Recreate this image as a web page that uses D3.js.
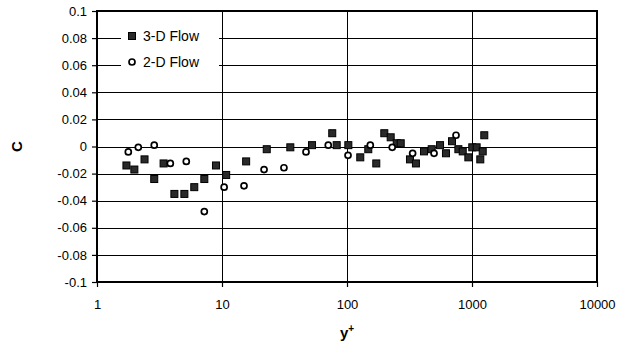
<!DOCTYPE html>
<html>
<head>
<meta charset="utf-8">
<script src="https://cdn.jsdelivr.net/npm/d3@7"></script>
<style>
  body { margin: 0; background: #fff; }
  text { font-family: "Liberation Sans", Arial, sans-serif; }
</style>
</head>
<body>
<div id="chart"></div>
<script>
// 3-D flow series
const x3d = [1.72, 1.99, 2.4, 2.87, 3.41, 4.16, 5.0, 6.0, 7.22, 8.95, 10.8, 15.6, 22.8, 35.2, 52.5, 76.2, 82.7, 102.5, 127.7, 148,
  171.5, 198.8, 223.6, 250, 269, 319, 356, 413, 476, 555, 619, 692, 778, 843, 935, 1005, 1089, 1165, 1218, 1254]
const c3d = [-0.014, -0.017, -0.0095, -0.024, -0.0125, -0.035, -0.035, -0.030, -0.024, -0.014, -0.021, -0.011, -0.002, -0.0006, 0.001, 0.0098, 0.001, 0.001, -0.008, -0.002,
  -0.0125, 0.0098, 0.0068, 0.0024, 0.0024, -0.0095, -0.0125, -0.0036, -0.002, 0.001, -0.005, 0.0039, -0.002, -0.0036, -0.008, -0.0006, -0.0006, -0.0095, -0.0036, 0.0083]

// 2-D flow series
const x2d = [1.78, 2.14, 2.87, 3.86, 5.18, 7.22, 10.4, 15.0, 21.7, 31.3, 47.0, 70.8, 101.9, 153.6, 230, 335, 497, 745]
const c2d = [-0.004, -0.0006, 0.001, -0.0125, -0.011, -0.048, -0.030, -0.029, -0.017, -0.0157, -0.004, 0.001, -0.0065, 0.001, -0.0006, -0.005, -0.005, 0.0083]

const xTicks = [1, 10, 100, 1000, 10000]
const yTicks = [-0.1, -0.08, -0.06, -0.04, -0.02, 0, 0.02, 0.04, 0.06, 0.08, 0.1]
const seriesNames = ["3-D Flow", "2-D Flow"]

const width = 626
const height = 347
const plotL = 97, plotR = 597, plotT = 11, plotB = 282

const svg = d3.select("#chart")
  .append("svg")
  .attr("width", width)
  .attr("height", height)

const x = d3.scaleLog().domain([1, 10000]).range([plotL, plotR])
const y = d3.scaleLinear().domain([-0.1, 0.1]).range([plotB, plotT])

// grid
svg.append("g")
  .selectAll("line")
  .data(yTicks.slice(1, -1))
  .join("line")
  .attr("x1", plotL).attr("x2", plotR)
  .attr("y1", d => Math.round(y(d)) + 0.5).attr("y2", d => Math.round(y(d)) + 0.5)
  .attr("stroke", "#000")
  .attr("stroke-width", 1)

svg.append("g")
  .selectAll("line")
  .data(xTicks.slice(1, -1))
  .join("line")
  .attr("x1", d => Math.round(x(d)) + 0.5).attr("x2", d => Math.round(x(d)) + 0.5)
  .attr("y1", plotT).attr("y2", plotB)
  .attr("stroke", "#000")
  .attr("stroke-width", 1)

// axes
const fmt = d => d === 0 ? "0" : String(+d.toFixed(2))

const yAxis = svg.append("g")
  .attr("transform", `translate(${plotL},0)`)
  .call(d3.axisLeft(y).tickValues(yTicks).tickFormat(fmt).tickSize(5).tickPadding(5))
yAxis.select(".domain").remove()

const xAxis = svg.append("g")
  .attr("transform", `translate(0,${plotB})`)
  .call(d3.axisBottom(x).tickValues(xTicks).tickFormat(d3.format("d")).tickSize(5).tickPadding(13))
xAxis.select(".domain").remove()

svg.selectAll(".tick line").attr("stroke", "#000").attr("stroke-width", 1.2)
svg.selectAll(".tick text")
  .attr("fill", "#000")
  .style("font-size", "13px")
  .style("font-family", "'Liberation Sans', Arial, sans-serif")

// plot border
svg.append("rect")
  .attr("x", plotL).attr("y", plotT)
  .attr("width", plotR - plotL).attr("height", plotB - plotT)
  .attr("fill", "none")
  .attr("stroke", "#000")
  .attr("stroke-width", 2)

// markers
const pts3 = x3d.map((v, i) => ({ x: v, c: c3d[i] }))
const pts2 = x2d.map((v, i) => ({ x: v, c: c2d[i] }))

svg.append("g")
  .selectAll("rect")
  .data(pts3)
  .join("rect")
  .attr("x", d => x(d.x) - 3.5)
  .attr("y", d => y(d.c) - 3.5)
  .attr("width", 7)
  .attr("height", 7)
  .attr("fill", "#2a2a2a")
  .attr("stroke", "#000")
  .attr("stroke-width", 1)

svg.append("g")
  .selectAll("circle")
  .data(pts2)
  .join("circle")
  .attr("cx", d => x(d.x))
  .attr("cy", d => y(d.c))
  .attr("r", 3)
  .attr("fill", "#fff")
  .attr("stroke", "#000")
  .attr("stroke-width", 1.7)

// legend
const legend = svg.append("g")
legend.append("rect")
  .attr("x", 121).attr("y", 24)
  .attr("width", 98).attr("height", 51)
  .attr("fill", "#fff")

legend.append("rect")
  .attr("x", 128.5).attr("y", 32.5)
  .attr("width", 7).attr("height", 7)
  .attr("fill", "#2a2a2a").attr("stroke", "#000")

legend.append("circle")
  .attr("cx", 132).attr("cy", 62)
  .attr("r", 3)
  .attr("fill", "#fff").attr("stroke", "#000").attr("stroke-width", 1.7)

legend.selectAll("text")
  .data(seriesNames)
  .join("text")
  .attr("x", 143)
  .attr("y", (d, i) => 36 + i * 26)
  .attr("dy", "0.35em")
  .style("font-size", "14px")
  .text(d => d)

// axis titles
const xt = svg.append("text")
  .attr("x", (plotL + plotR) / 2)
  .attr("y", 338)
  .attr("text-anchor", "middle")
  .style("font-size", "15px")
  .style("font-weight", "bold")
xt.append("tspan").text("y")
xt.append("tspan").attr("dy", -6).style("font-size", "10px").text("+")

svg.append("text")
  .attr("transform", `translate(22,${y(0)}) rotate(-90)`)
  .attr("text-anchor", "middle")
  .style("font-size", "15px")
  .style("font-weight", "bold")
  .text("C")
</script>
</body>
</html>
